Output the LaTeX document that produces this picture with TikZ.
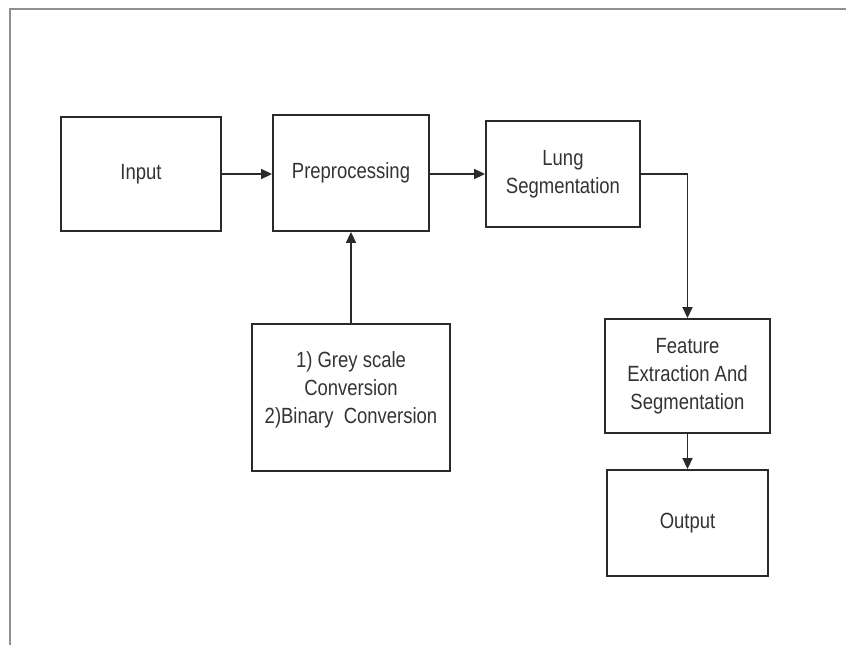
\documentclass[tikz,border=0pt]{standalone}
\usepackage{fontspec}
\setmainfont{Liberation Sans}[FakeStretch=0.84]
\usetikzlibrary{arrows.meta}
\definecolor{txt}{HTML}{333333}
\definecolor{edge}{HTML}{2A2A2A}
\definecolor{frame}{HTML}{909090}
\tikzset{
  box/.style={draw=edge, line width=1.9pt, inner sep=0pt, align=center,
    text=txt, font=\fontsize{22}{28}\selectfont},
  conn/.style={draw=edge, line width=1.8pt, -{Triangle[length=11pt,width=10pt]}},
  plain/.style={inner sep=0pt, align=center, text=txt, font=\fontsize{22}{28}\selectfont}
}
\begin{document}
\begin{tikzpicture}[x=1pt,y=-1pt]
\useasboundingbox (0,0) rectangle (846,645);
\coordinate (fTL) at (10,9);
\coordinate (fTR) at (846,9);
\coordinate (fBL) at (10,645);
\draw[frame, line width=2pt] (fTR) -- (fTL) -- (fBL);

\node[box, minimum width=160pt, minimum height=114pt] (input) at (141,174) {Input};
\node[box, minimum width=156pt, minimum height=116pt] (prep) at (351,173) {Preprocessing};
\node[box, minimum width=154pt, minimum height=106pt] (lung) at (563,174) {Lung\\Segmentation};
\node[box, minimum width=198pt, minimum height=147pt] (grey) at (351,397.5) {};
\node[plain] (greytext) at (351,390) {1) Grey scale\\Conversion\\2)Binary\ \ Conversion};
\node[box, minimum width=165pt, minimum height=114pt] (feat) at (687.5,376) {Feature\\Extraction And\\Segmentation};
\node[box, minimum width=161pt, minimum height=106pt] (out) at (687.5,523) {Output};

\draw[conn] (input.east) -- (input.east -| prep.west);
\draw[conn] (prep.east |- lung.west) -- (lung.west);
\draw[conn] (lung.east) -| (feat.north);
\draw[conn] (grey.north) -- (prep.south);
\draw[conn] (feat.south) -- (out.north);
\end{tikzpicture}
\end{document}
